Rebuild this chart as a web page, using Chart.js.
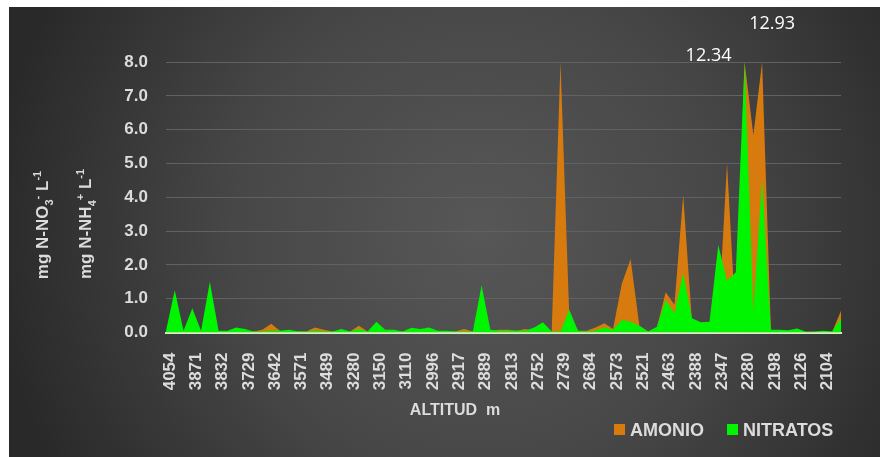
<!DOCTYPE html>
<html><head><meta charset="utf-8">
<script src="https://cdn.jsdelivr.net/npm/chart.js@4"></script>
<style>html,body{margin:0;padding:0;background:#fff}#wrap{width:880px;height:457px}</style>
</head><body><div id="wrap"><canvas id="c" width="880" height="457"></canvas></div>
<script>
// ---- data (values as drawn; the two tallest peaks reach the 8.0 axis top and carry text notes) ----
const tickLabels = ['4054','3871','3832','3729','3642','3571','3489','3280','3150','3110','2996','2917','2889','2813','2752','2739','2684','2573','2521','2463','2388','2347','2280','2198','2126','2104'];
const amonio = [
  0.02,0.02,0.02,0.02,0.02,0.02,0.02,0.02,0.05,0.05,
  0.03,0.08,0.26,0.05,0.03,0.03,0.03,0.15,0.08,0.03,
  0.03,0.03,0.20,0.03,0.05,0.03,0.03,0.03,0.03,0.03,
  0.03,0.03,0.03,0.03,0.10,0.03,0.03,0.05,0.08,0.08,
  0.05,0.10,0.05,0.05,0.03,8.00,0.50,0.05,0.05,0.15,
  0.27,0.10,1.45,2.17,0.20,0.03,0.15,1.19,0.82,4.07,
  0.30,0.25,0.25,0.30,5.00,0.25,8.00,5.84,8.00,0.08,
  0.05,0.05,0.05,0.02,0.02,0.03,0.02,0.64
];
const nitratos = [
  0.05,1.25,0.05,0.72,0.05,1.50,0.05,0.05,0.15,0.10,
  0.03,0.03,0.05,0.05,0.08,0.04,0.03,0.05,0.03,0.03,
  0.10,0.03,0.10,0.03,0.32,0.08,0.08,0.03,0.14,0.10,
  0.15,0.05,0.05,0.03,0.03,0.03,1.40,0.08,0.05,0.05,
  0.05,0.05,0.15,0.30,0.03,0.03,0.67,0.05,0.03,0.05,
  0.15,0.08,0.37,0.32,0.20,0.03,0.17,0.96,0.57,1.75,
  0.42,0.30,0.32,2.59,1.52,1.78,8.00,0.62,4.51,0.08,
  0.08,0.07,0.12,0.02,0.03,0.05,0.03,0.42
];
const seriesNames = ['AMONIO', 'NITRATOS'];
const seriesColors = ['#d87b0e', '#00f500'];
const peakNotes = [{index: 66, text: '12.34', dx: -36, dy: -6}, {index: 68, text: '12.93', dx: 10, dy: -38}];
const yTitles = [
  [['mg N-NO',0],['3',-1],['-',1],[' L',0],['-1',1]],
  [['mg N-NH',0],['4',-1],['+',1],[' L',0],['-1',1]]
];
const xTitle = 'ALTITUD  m';

const categories = amonio.map((_, i) => i % 3 === 0 ? tickLabels[i / 3] : '');
const TXT = '#dcdcdc';
const FONT = "'Liberation Sans', Arial, sans-serif";

function drawRich(ctx, segs, cx, cy, size) {
  const small = Math.round(size * 0.65);
  let total = 0;
  const parts = segs.map(([t, s]) => {
    ctx.font = 'bold ' + (s ? small : size) + 'px ' + FONT;
    const w = ctx.measureText(t).width;
    total += w;
    return {t, s, w};
  });
  ctx.save();
  ctx.translate(cx, cy);
  ctx.rotate(-Math.PI / 2);
  ctx.fillStyle = TXT;
  ctx.textBaseline = 'alphabetic';
  ctx.textAlign = 'left';
  let x = -total / 2;
  const base = size * 0.36;
  for (const p of parts) {
    ctx.font = 'bold ' + (p.s ? small : size) + 'px ' + FONT;
    const off = p.s === -1 ? size * 0.28 : (p.s === 1 ? -size * 0.42 : 0);
    ctx.fillText(p.t, x, base + off);
    x += p.w;
  }
  ctx.restore();
}

const decor = {
  id: 'decor',
  beforeDraw(chart) {
    const ctx = chart.ctx;
    ctx.save();
    ctx.fillStyle = '#ffffff';
    ctx.fillRect(0, 0, 880, 457);
    const g = ctx.createRadialGradient(480, 230, 0, 480, 230, 490);
    g.addColorStop(0, '#575757');
    g.addColorStop(0.5, '#474747');
    g.addColorStop(1, '#292929');
    ctx.fillStyle = g;
    ctx.fillRect(9, 7, 871, 450);
    ctx.restore();
  },
  afterDraw(chart) {
    const ctx = chart.ctx;
    const xs = chart.scales.x, a = chart.chartArea;
    ctx.save();
    drawRich(ctx, yTitles[0], 42, 225, 17);
    drawRich(ctx, yTitles[1], 85, 224, 17);
    ctx.fillStyle = TXT;
    ctx.font = 'bold 16px ' + FONT;
    ctx.textAlign = 'center';
    ctx.textBaseline = 'middle';
    ctx.fillText(xTitle, 455, 411);
    ctx.textAlign = 'left';
    ctx.font = 'bold 18px ' + FONT;
    const legendX = [614, 727];
    seriesNames.forEach((n, i) => {
      ctx.fillStyle = seriesColors[i];
      ctx.fillRect(legendX[i], 424, 11, 11);
      ctx.fillStyle = TXT;
      ctx.fillText(n, legendX[i] + 16, 431);
    });
    ctx.fillStyle = '#ffffff';
    ctx.font = "18px 'Open Sans', sans-serif";
    ctx.textAlign = 'center';
    peakNotes.forEach(p => {
      ctx.fillText(p.text, xs.getPixelForValue(p.index) + p.dx, a.top + p.dy);
    });
    ctx.restore();
  }
};

new Chart(document.getElementById('c'), {
  type: 'line',
  data: {
    labels: categories,
    datasets: [
      {label: seriesNames[0], data: amonio, order: 1, backgroundColor: seriesColors[0], borderWidth: 0, fill: 'origin', pointRadius: 0, tension: 0, clip: 0},
      {label: seriesNames[1], data: nitratos, order: 0, backgroundColor: seriesColors[1], borderWidth: 0, fill: 'origin', pointRadius: 0, tension: 0, clip: 0}
    ]
  },
  options: {
    responsive: false,
    animation: false,
    devicePixelRatio: 1,
    layout: {padding: {left: 0, right: 39, top: 62, bottom: 0}},
    plugins: {legend: {display: false}, tooltip: {enabled: false}},
    scales: {
      x: {
        offset: false,
        z: 1,
        grid: {display: false},
        border: {display: true, color: '#cdf2c4', width: 2},
        ticks: {
          autoSkip: false, minRotation: 90, maxRotation: 90, padding: 12, labelOffset: 4,
          color: TXT, font: {family: FONT, weight: 'bold', size: 17}
        },
        afterFit(s) { s.height = 124.5; }
      },
      y: {
        min: 0, max: 8,
        grid: {color: c => c.tick && c.tick.value === 0 ? 'rgba(0,0,0,0)' : '#616161', lineWidth: 1, drawTicks: false},
        border: {display: false},
        ticks: {
          stepSize: 1, padding: 18, color: TXT,
          font: {family: FONT, weight: 'bold', size: 17},
          callback: v => v.toFixed(1)
        },
        afterFit(s) { s.width = 166; }
      }
    }
  },
  plugins: [decor]
});
</script>
</body></html>
